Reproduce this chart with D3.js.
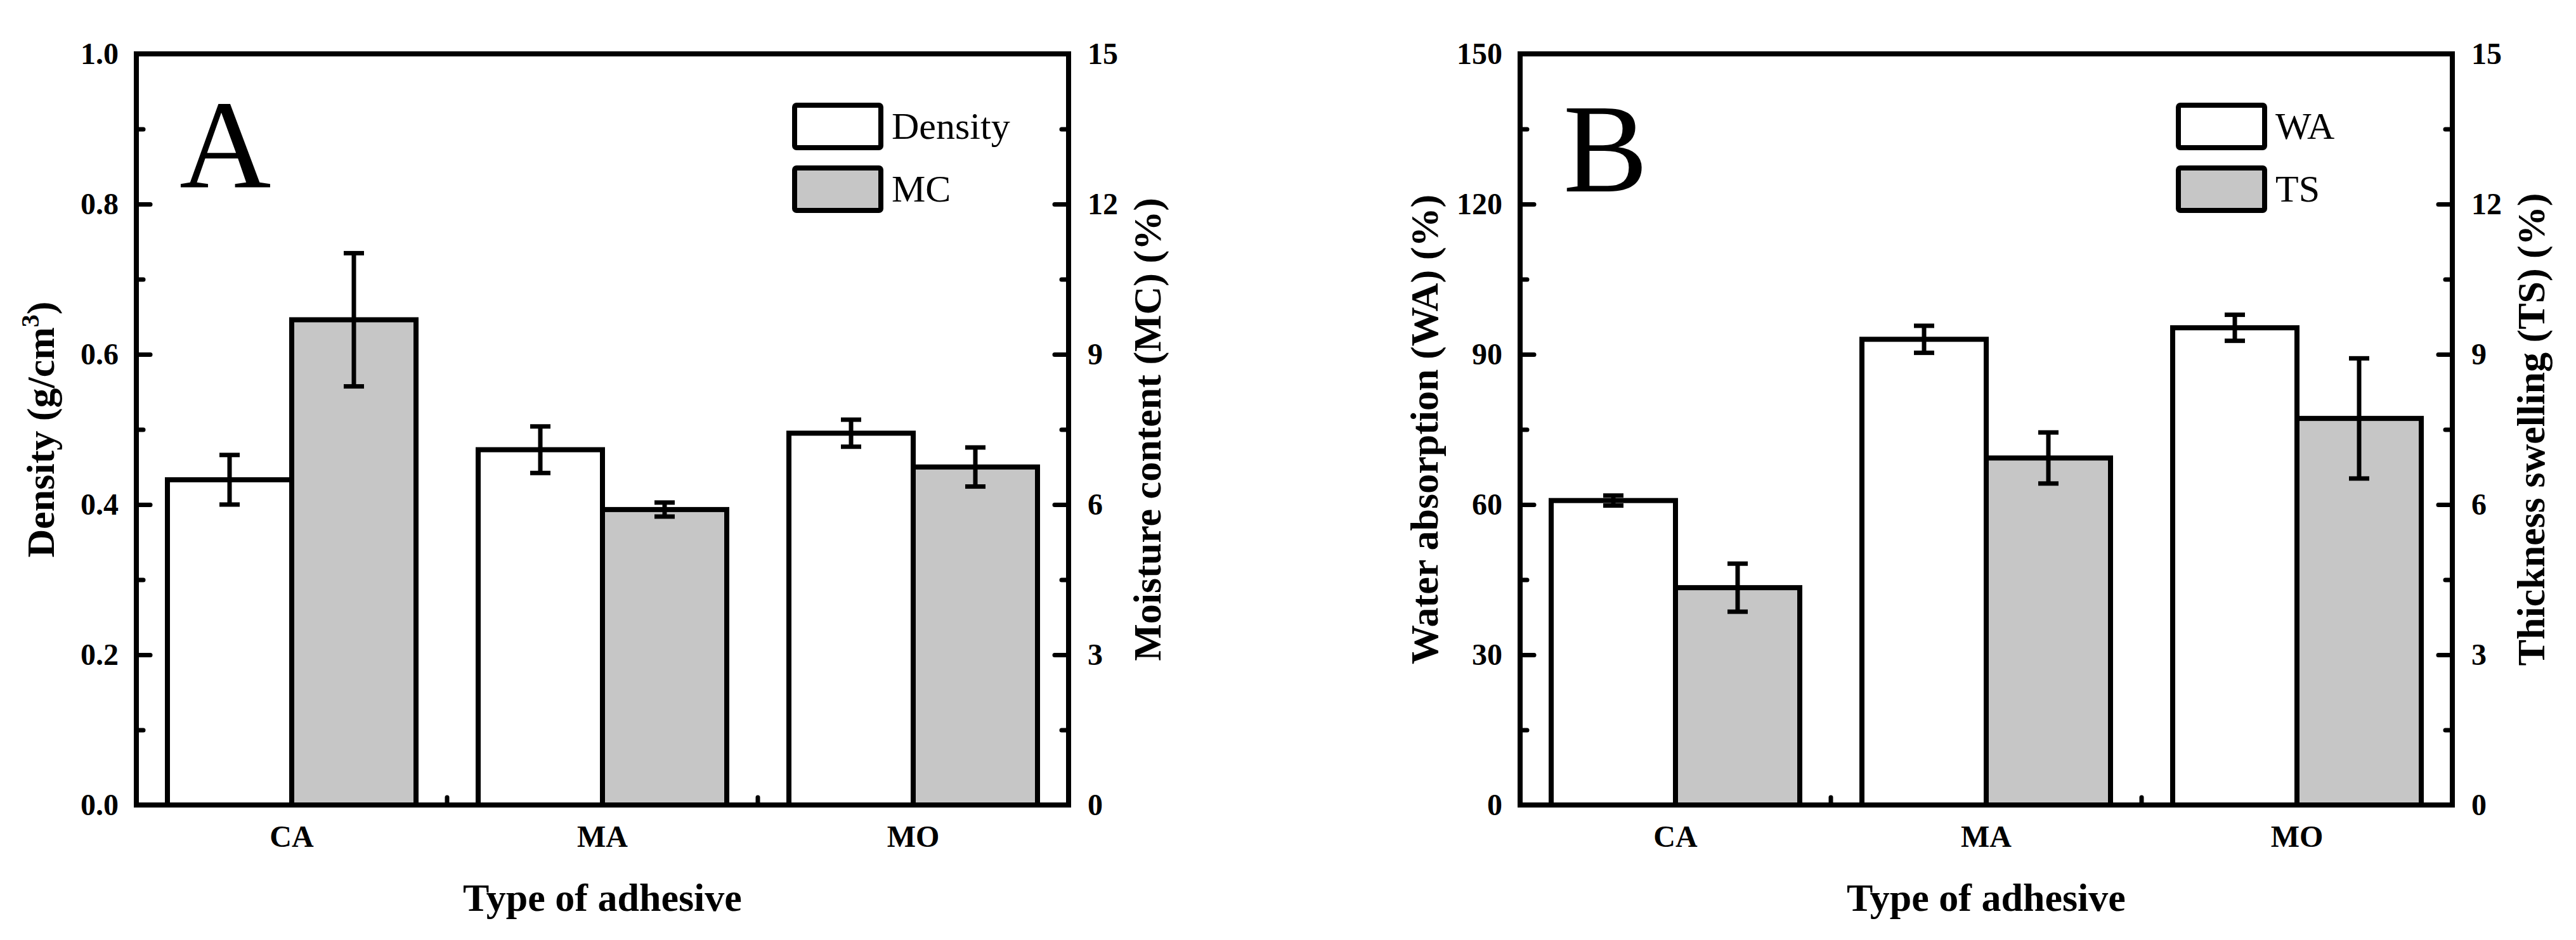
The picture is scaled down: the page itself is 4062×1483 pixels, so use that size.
<!DOCTYPE html>
<html>
<head>
<meta charset="utf-8">
<script src="https://cdn.jsdelivr.net/npm/d3@7"></script>
<style>
  body { margin: 0; background: #fff; }
  svg { display: block; }
  text { font-family: "Liberation Serif", "Times New Roman", serif; fill: #000; }
</style>
</head>
<body>
<svg id="chart" width="4062" height="1483"></svg>
<script>
const width = 4062;
const height = 1483;

// values
const categories = ["CA", "MA", "MO"];
const density = [0.433, 0.473, 0.495];
const densityErr = [0.033, 0.031, 0.018];
const mc = [9.69, 5.90, 6.75];
const mcErr = [1.33, 0.14, 0.39];
const wa = [60.8, 93.0, 95.3];
const waErr = [1.0, 2.7, 2.6];
const ts = [4.34, 6.93, 7.72];
const tsErr = [0.48, 0.51, 1.20];

const densityTicks = [0, 0.2, 0.4, 0.6, 0.8, 1.0];
const waTicks = [0, 30, 60, 90, 120, 150];
const rightTicks = [0, 3, 6, 9, 12, 15];

const gray = "#c6c6c6";
const svg = d3.select("#chart");

const plotW = 1470;
const plotTop = 85;
const plotBottom = 1270;

const panels = [
    {
        left: 215, letter: "A", letterY: 295,
        leftMax: 1.0, leftTicks: densityTicks, leftFmt: d3.format(".1f"),
        rightMax: 15, rightTicks: rightTicks,
        names: ["Density", "MC"],
        left1: density, err1: densityErr, right2: mc, err2: mcErr,
        leftTitle: "Density (g/cm", leftSup: "3", leftTitleEnd: ")",
        rightTitle: "Moisture content (MC) (%)"
    },
    {
        left: 2397, letter: "B", letterY: 302,
        leftMax: 150, leftTicks: waTicks, leftFmt: d3.format("d"),
        rightMax: 15, rightTicks: rightTicks,
        names: ["WA", "TS"],
        left1: wa, err1: waErr, right2: ts, err2: tsErr,
        leftTitle: "Water absorption (WA) (%)",
        rightTitle: "Thickness swelling (TS) (%)"
    }
];

function drawPanel(p) {
    const g = svg.append("g").attr("transform", `translate(${p.left},0)`);

    const x = d3.scaleBand().domain(categories).range([0, plotW]);
    const xs = d3.scaleBand().domain([0, 1]).range([0, x.bandwidth()]).paddingOuter(0.25);
    const yL = d3.scaleLinear().domain([0, p.leftMax]).range([plotBottom, plotTop]);
    const yR = d3.scaleLinear().domain([0, p.rightMax]).range([plotBottom, plotTop]);

    const series = [
        { vals: p.left1, errs: p.err1, y: yL, fill: "#fff" },
        { vals: p.right2, errs: p.err2, y: yR, fill: gray }
    ];

    // bars
    series.forEach((s, i) => {
        g.selectAll(null)
            .data(categories)
            .enter()
            .append("rect")
            .attr("x", c => x(c) + xs(i))
            .attr("width", xs.bandwidth())
            .attr("y", (c, j) => s.y(s.vals[j]))
            .attr("height", (c, j) => plotBottom - s.y(s.vals[j]))
            .attr("fill", s.fill)
            .attr("stroke", "#000")
            .attr("stroke-width", 8);
    });

    // error bars
    series.forEach((s, i) => {
        const cx = c => x(c) + xs(i) + xs.bandwidth() / 2;
        const eg = g.append("g").attr("stroke", "#000").attr("stroke-width", 7);
        categories.forEach((c, j) => {
            const hi = s.y(s.vals[j] + s.errs[j]);
            const lo = s.y(s.vals[j] - s.errs[j]);
            eg.append("line").attr("x1", cx(c)).attr("x2", cx(c)).attr("y1", hi).attr("y2", lo);
            eg.append("line").attr("x1", cx(c) - 16).attr("x2", cx(c) + 16).attr("y1", hi).attr("y2", hi);
            eg.append("line").attr("x1", cx(c) - 16).attr("x2", cx(c) + 16).attr("y1", lo).attr("y2", lo);
        });
    });

    // axes
    const leftMinor = d3.range(0, 11).map(k => p.leftMax * k / 10);
    const rightMinor = d3.range(0, 11).map(k => p.rightMax * k / 10);

    g.append("g").attr("class", "ax")
        .call(d3.axisLeft(yL).tickValues(leftMinor).tickSize(-11).tickFormat(""));
    g.append("g").attr("class", "ax")
        .call(d3.axisLeft(yL).tickValues(p.leftTicks).tickSize(-22).tickPadding(28).tickFormat(p.leftFmt));
    g.append("g").attr("class", "ax").attr("transform", `translate(${plotW},0)`)
        .call(d3.axisRight(yR).tickValues(rightMinor).tickSize(-11).tickFormat(""));
    g.append("g").attr("class", "ax").attr("transform", `translate(${plotW},0)`)
        .call(d3.axisRight(yR).tickValues(p.rightTicks).tickSize(-22).tickPadding(30).tickFormat(d3.format("d")));
    g.append("g").attr("class", "ax").attr("transform", `translate(0,${plotBottom})`)
        .call(d3.axisBottom(x).tickSize(0).tickPadding(32));

    // small ticks between groups
    g.selectAll(null)
        .data(categories.slice(1))
        .enter()
        .append("line")
        .attr("x1", c => x(c)).attr("x2", c => x(c))
        .attr("y1", plotBottom).attr("y2", plotBottom - 12)
        .attr("stroke", "#000").attr("stroke-width", 7).attr("stroke-linecap", "round");

    g.selectAll(".ax .domain").remove();
    g.selectAll(".ax line").attr("stroke", "#000").attr("stroke-width", 7).attr("stroke-linecap", "round");
    g.selectAll(".ax text")
        .attr("font-family", "'Liberation Serif', 'Times New Roman', serif")
        .attr("font-size", 48).attr("font-weight", "bold");

    // frame
    g.append("rect")
        .attr("x", 0).attr("y", plotTop)
        .attr("width", plotW).attr("height", plotBottom - plotTop)
        .attr("fill", "none").attr("stroke", "#000").attr("stroke-width", 8);

    // panel letter
    g.append("text")
        .attr("x", 68).attr("y", p.letterY)
        .attr("font-size", 200)
        .text(p.letter);

    // legend
    const leg = g.append("g").attr("transform", "translate(1038,0)");
    series.forEach((s, i) => {
        leg.append("rect")
            .attr("x", 0).attr("y", 166 + i * 99)
            .attr("width", 136).attr("height", 67)
            .attr("rx", 3)
            .attr("fill", s.fill).attr("stroke", "#000").attr("stroke-width", 8);
        leg.append("text")
            .attr("x", 153).attr("y", 219 + i * 99)
            .attr("font-size", 60)
            .text(p.names[i]);
    });

    // axis titles
    g.append("text")
        .attr("x", plotW / 2).attr("y", 1437)
        .attr("text-anchor", "middle")
        .attr("font-size", 62).attr("font-weight", "bold")
        .text("Type of adhesive");

    const lt = g.append("text")
        .attr("transform", `translate(-130,${(plotTop + plotBottom) / 2}) rotate(-90)`)
        .attr("text-anchor", "middle")
        .attr("font-size", 62).attr("font-weight", "bold");
    lt.append("tspan").text(p.leftTitle);
    if (p.leftSup) {
        lt.append("tspan").attr("font-size", 40).attr("dy", -24).text(p.leftSup);
        lt.append("tspan").attr("dy", 24).text(p.leftTitleEnd);
    }

    g.append("text")
        .attr("transform", `translate(${plotW + 145},${(plotTop + plotBottom) / 2}) rotate(-90)`)
        .attr("text-anchor", "middle")
        .attr("font-size", 62).attr("font-weight", "bold")
        .text(p.rightTitle);
}

panels.forEach(drawPanel);
</script>
</body>
</html>
